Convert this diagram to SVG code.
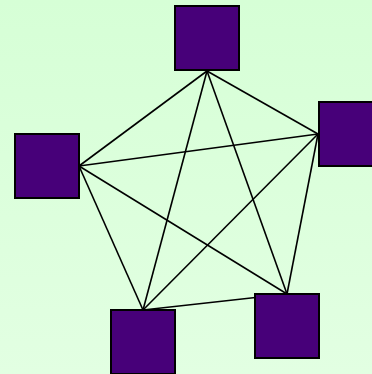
<svg xmlns="http://www.w3.org/2000/svg" width="372" height="374" viewBox="0 0 372 374">
<defs>
<linearGradient id="bg" x1="0" y1="0" x2="0" y2="1">
<stop offset="0" stop-color="#d6ffd6"/>
<stop offset="1" stop-color="#e2ffe2"/>
</linearGradient>
<style>
.n{fill:#470079;stroke:#000;stroke-width:2}
.e{stroke:#000;stroke-width:1.6;fill:none}
</style>
</defs>
<rect width="372" height="374" fill="url(#bg)"/>
<g id="edges">
<line class="e" x1="207" y1="71" x2="318" y2="134"/>
<line class="e" x1="207" y1="71" x2="79" y2="166"/>
<line class="e" x1="207" y1="71" x2="143" y2="310"/>
<line class="e" x1="207" y1="71" x2="287" y2="294"/>
<line class="e" x1="318" y1="134" x2="79" y2="166"/>
<line class="e" x1="318" y1="134" x2="143" y2="310"/>
<line class="e" x1="318" y1="134" x2="287" y2="294"/>
<line class="e" x1="79" y1="166" x2="143" y2="310"/>
<line class="e" x1="79" y1="166" x2="287" y2="294"/>
<line class="e" x1="143" y1="310" x2="287" y2="294"/>
</g>
<g id="top"><rect class="n" x="175" y="6" width="64" height="64"/></g>
<g id="right"><rect class="n" x="319" y="102" width="64" height="64"/></g>
<g id="left"><rect class="n" x="15" y="134" width="64" height="64"/></g>
<g id="bottomLeft"><rect class="n" x="111" y="310" width="64" height="64"/></g>
<g id="bottomRight"><rect class="n" x="255" y="294" width="64" height="64"/></g>
</svg>
